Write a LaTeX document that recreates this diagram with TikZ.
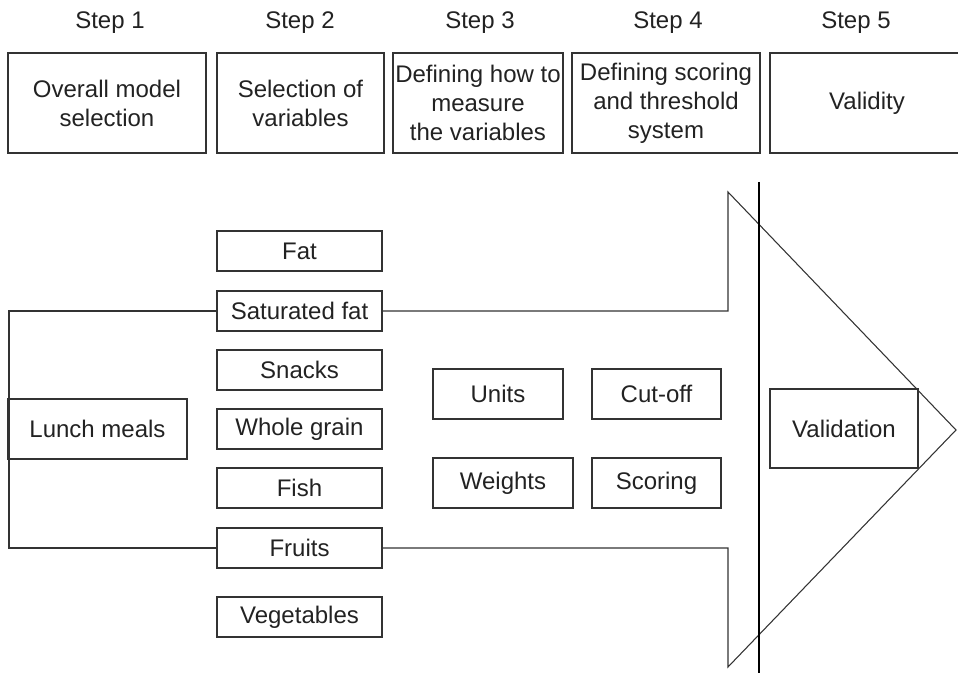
\documentclass[tikz,border=0pt]{standalone}
\usepackage{fontspec}
\setmainfont{Liberation Sans}
\definecolor{ln}{HTML}{333333}
\definecolor{tx}{HTML}{222222}
\tikzset{
  txtfont/.style={font=\fontsize{18}{21.75}\selectfont},
  lbl/.style={txtfont, text=tx, inner sep=0pt},
  bx/.style n args={2}{draw=ln, line width=0.8pt, txtfont, text=tx, align=center,
     inner sep=0pt, minimum width=#1*0.75pt, minimum height=#2*0.75pt},
  conn/.style={draw=ln, line width=0.8pt},
}
\begin{document}
\begin{tikzpicture}[x=0.75pt, y=-0.75pt]
\useasboundingbox (0,0) rectangle (958,673);

% step labels
\node[lbl] (s1) at (110,23) {Step 1};
\node[lbl] (s2) at (300,23) {Step 2};
\node[lbl] (s3) at (480,23) {Step 3};
\node[lbl] (s4) at (668,23) {Step 4};
\node[lbl] (s5) at (856,23) {Step 5};

% top boxes
\node[bx={198}{100}] (b1) at (107,103) {Overall model\\selection};
\node[bx={167}{100}] (b2) at (300.5,103) {Selection of\\variables};
\node[bx={170}{100}] (b3) at (478,103) {Defining how to\\measure\\the variables};
\node[bx={188}{100}] (b4) at (666,103) {Defining scoring\\and threshold\\system};
\node[bx={194}{100}] (b5) at (867,103) {Validity};

% variables
\node[bx={165}{40}] (fat) at (299.5,251) {Fat};
\node[bx={165}{40}] (sat) at (299.5,311) {Saturated fat};
\node[bx={165}{40}] (snk) at (299.5,370) {Snacks};
\node[bx={165}{40}] (wg)  at (299.5,429) {Whole grain};
\node[bx={165}{40}] (fsh) at (299.5,488) {Fish};
\node[bx={165}{40}] (frt) at (299.5,548) {Fruits};
\node[bx={165}{40}] (veg) at (299.5,617) {Vegetables};

\node[bx={179}{60}] (lunch) at (97.5,429) {Lunch meals};

\node[bx={130}{50}] (units) at (498,394) {Units};
\node[bx={140}{50}] (wts)   at (503,483) {Weights};
\node[bx={129}{50}] (cut)   at (656.5,394) {Cut-off};
\node[bx={129}{50}] (scr)   at (656.5,483) {Scoring};

\node[bx={148}{79}] (val) at (844,428.5) {Validation};

% arrow outline
\coordinate (lt) at (9,311);
\coordinate (lb) at (9,548);
\coordinate (rt) at (728,311);
\coordinate (rtt) at (728,192);
\coordinate (tip) at (956,430);
\coordinate (rbb) at (728,667);
\coordinate (rb) at (728,548);
\draw[conn] (sat.west) -- (lt) -- (lb) -- (frt.west);
\draw[conn, line join=miter] (sat.east) -- (rt) -- (rtt) -- (tip) -- (rbb) -- (rb) -- (frt.east);

% separator line
\coordinate (vt) at (759,182);
\coordinate (vb) at (759,673);
\draw[draw=black, line width=1.4pt] (vt) -- (vb);
\end{tikzpicture}
\end{document}
